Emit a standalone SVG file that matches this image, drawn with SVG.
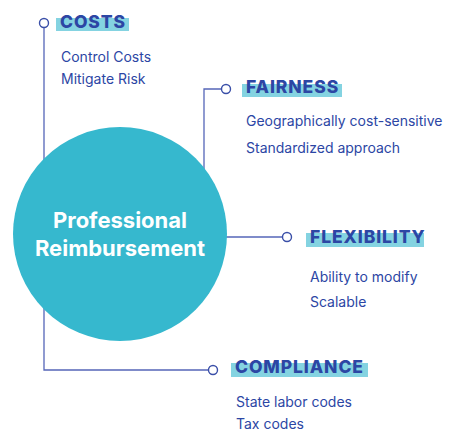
<svg xmlns="http://www.w3.org/2000/svg" width="449" height="444" viewBox="0 0 449 444">
<style>
.ln{fill:none;stroke:#5566b8;stroke-width:1.3}
.dot{fill:#fff;stroke:#3a4fa8;stroke-width:1.4}
.hl{fill:#84d3e1}
.ttl{font-family:Inter,"Liberation Sans",sans-serif;font-weight:800;font-size:17.5px;fill:#2c46a4;letter-spacing:0.9px}
.sub{font-family:Inter,"Liberation Sans",sans-serif;font-size:14px;fill:#2c46a4}
.ctr{font-family:Inter,"Liberation Sans",sans-serif;font-weight:700;font-size:22px;fill:#fff;text-anchor:middle}
</style>
<rect width="449" height="444" fill="#fff"/>
<g id="connectors">
<polyline class="ln" points="44,23 44,370 213,370"/>
<polyline class="ln" points="204,175 204,89 226,89"/>
<line class="ln" x1="220" y1="237" x2="287" y2="237"/>
</g>
<g id="center">
<circle cx="120" cy="234" r="107" fill="#36b8ce"/>
<text class="ctr" x="120" y="228">Professional</text>
<text class="ctr" x="120" y="256">Reimbursement</text>
</g>
<g id="costs">
<circle class="dot" cx="44" cy="23" r="4.5"/>
<rect class="hl" x="56" y="18" width="73" height="13"/>
<text class="ttl" x="60" y="28">COSTS</text>
<text class="sub" x="61" y="62">Control Costs</text>
<text class="sub" x="61" y="84">Mitigate Risk</text>
</g>
<g id="fairness">
<circle class="dot" cx="226" cy="89" r="4.5"/>
<rect class="hl" x="242" y="84" width="100" height="13"/>
<text class="ttl" x="246" y="93">FAIRNESS</text>
<text class="sub" x="246" y="126">Geographically cost-sensitive</text>
<text class="sub" x="246" y="153">Standardized approach</text>
</g>
<g id="flexibility">
<circle class="dot" cx="287" cy="237" r="4.5"/>
<rect class="hl" x="306" y="233" width="118" height="14"/>
<text class="ttl" x="310" y="243">FLEXIBILITY</text>
<text class="sub" x="310" y="282">Ability to modify</text>
<text class="sub" x="310" y="307">Scalable</text>
</g>
<g id="compliance">
<circle class="dot" cx="213" cy="370" r="4.5"/>
<rect class="hl" x="231" y="363" width="137" height="14"/>
<text class="ttl" x="235" y="373">COMPLIANCE</text>
<text class="sub" x="236" y="407">State labor codes</text>
<text class="sub" x="236" y="429">Tax codes</text>
</g>
</svg>
